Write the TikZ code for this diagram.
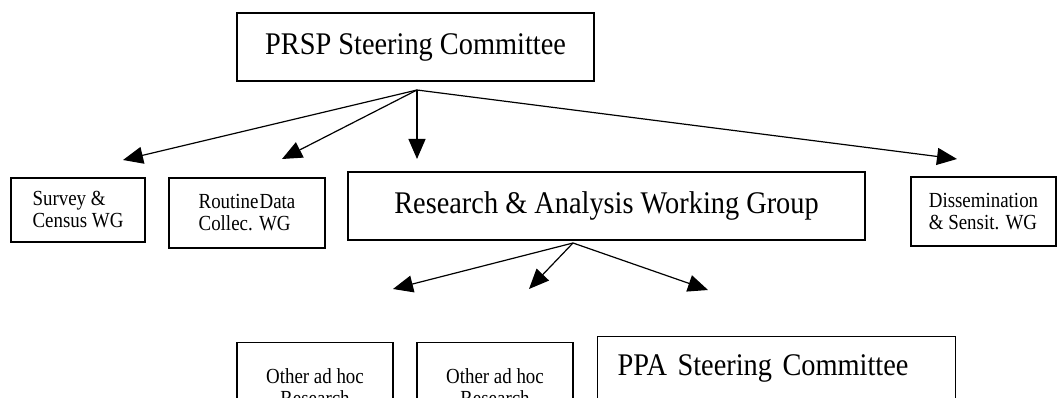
\documentclass[tikz,border=0pt]{standalone}
\usepackage{fontspec}
\setmainfont{Liberation Serif}
\newfontfamily\narrowserif[FakeStretch=0.88]{Liberation Serif}
\newfontfamily\titleserif[FakeStretch=0.9]{Liberation Serif}
\usetikzlibrary{arrows.meta}
\newcommand\bigtxt{\titleserif\fontsize{31.5}{34}\selectfont}
\newcommand\smalltxt{\narrowserif\fontsize{21.5}{22}\selectfont}
\tikzset{box/.style={draw, line width=1.3pt, inner sep=0pt},
    bigbox/.style={box, font=\bigtxt},
    smallbox/.style={box, font=\smalltxt, align=left},
    adhocbox/.style={box, font=\smalltxt, align=center, anchor=north,
        minimum width=156pt, inner ysep=26.3pt},
    link/.style={line width=1.2pt, -{Triangle[length=20pt,width=17pt]}},
    }

\begin{document}
\begin{tikzpicture}[x=1pt,y=-1pt]
\useasboundingbox (0,0) rectangle (1057,398);
\clip (0,0) rectangle (1057,398);

\node[bigbox, minimum width=357pt, minimum height=68pt] (prsp) at (415.5,47) {PRSP Steering Committee};

\node[smallbox, minimum width=134pt, minimum height=64pt] (survey) at (78,210) {Survey \&\\Census WG};
\node[smallbox, minimum width=156pt, minimum height=70pt] (routine) at (247,213) {Routine\hspace{0.05em}Data\\Collec. WG};
\node[bigbox, minimum width=517pt, minimum height=68pt] (research) at (606.5,206) {Research \& Analysis Working Group};
\node[smallbox, minimum width=145pt, minimum height=69pt] (dissem) at (983.5,211.5) {Dissemination\\\& Sensit. WG};

\node[adhocbox] (adhocA) at (315,342) {Other ad hoc\\Research};
\node[adhocbox] (adhocB) at (495,342) {Other ad hoc\\Research};
\node[bigbox, anchor=north west, text width=318pt, inner xsep=20pt, inner ysep=17.7pt,
    align=left, text depth=20pt] (ppa) at (597,336) {PPA Steering Committee};

% fan-out points and arrow tips
\coordinate (prspfork) at (417,90);
\coordinate (surveytip) at (123,160);
\coordinate (routinetip) at (282,159);
\coordinate (researchtip) at (417,159);
\coordinate (dissemtip) at (957,159);
\coordinate (researchfork) at (573,243);
\coordinate (adhocAtip) at (393,289);
\coordinate (adhocBtip) at (529,289);
\coordinate (ppatip) at (708,290);

\draw[link] (prspfork) -- (surveytip);
\draw[link] (prspfork) -- (routinetip);
\draw[link] (prspfork) -- (researchtip);
\draw[link] (prspfork) -- (dissemtip);

\draw[link] (researchfork) -- (adhocAtip);
\draw[link] (researchfork) -- (adhocBtip);
\draw[link] (researchfork) -- (ppatip);
\end{tikzpicture}
\end{document}
